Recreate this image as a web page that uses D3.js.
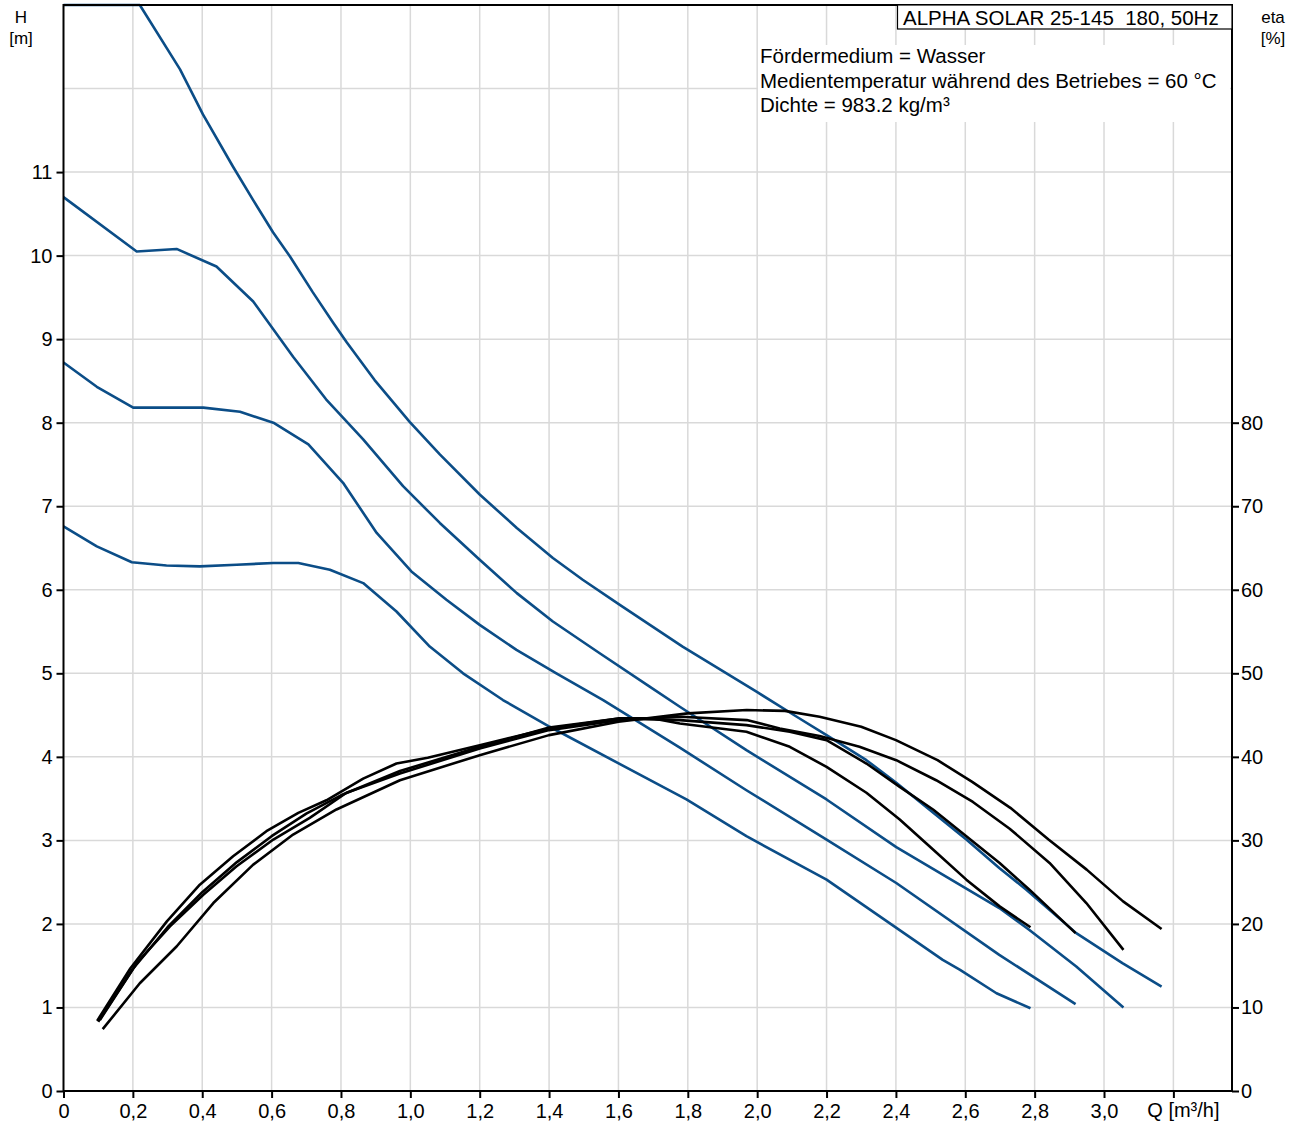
<html lang="de">
	<head>
		<title>ALPHA SOLAR 25-145 Kennlinien</title>
		<script src='https://d3js.org/d3.v7.min.js'></script>
		<style>
			body { margin: 0; background: white; }
			text { font-family: "Liberation Sans", Arial, sans-serif; fill: black; }
		</style>
	</head>
	<body>
		<svg id="svgForPumpCurves" width=1303 height=1122></svg>
	</body>
	<script>
        // Tick values and labels
        var qTicks = [0, 0.2, 0.4, 0.6, 0.8, 1.0, 1.2, 1.4, 1.6, 1.8, 2.0, 2.2, 2.4, 2.6, 2.8, 3.0, 3.2];
        var qTickLabels = ["0", "0,2", "0,4", "0,6", "0,8", "1,0", "1,2", "1,4", "1,6", "1,8", "2,0",
                           "2,2", "2,4", "2,6", "2,8", "3,0", "Q [m³/h]"];
        var hTicks = [0, 1, 2, 3, 4, 5, 6, 7, 8, 9, 10, 11];
        var hGridLines = [1, 2, 3, 4, 5, 6, 7, 8, 9, 10, 11, 12];
        var etaTicks = [0, 10, 20, 30, 40, 50, 60, 70, 80];

        var titleText = "ALPHA SOLAR 25-145  180, 50Hz";
        var infoLines = ["Fördermedium = Wasser",
                         "Medientemperatur während des Betriebes = 60 °C",
                         "Dichte = 983.2 kg/m³"];

        // Head curves H [m] over Q [m3/h]
        var headA = [[0, 13.0], [0.22, 13.0], [0.336, 12.23], [0.402, 11.69], [0.488, 11.07], [0.546, 10.67],
                     [0.604, 10.28], [0.653, 9.99], [0.719, 9.56], [0.777, 9.20], [0.817, 8.96], [0.897, 8.51],
                     [0.998, 8.01], [1.085, 7.62], [1.2, 7.14], [1.307, 6.74], [1.411, 6.38], [1.497, 6.12],
                     [1.604, 5.82], [1.785, 5.32], [1.998, 4.78], [2.114, 4.48], [2.2, 4.26], [2.315, 3.96],
                     [2.401, 3.69], [2.505, 3.34], [2.603, 3.01], [2.698, 2.67], [2.776, 2.41], [2.92, 1.89],
                     [3.053, 1.53], [3.166, 1.25]];
        var headB = [[0, 10.7], [0.211, 10.05], [0.326, 10.08], [0.441, 9.87], [0.547, 9.45], [0.662, 8.79],
                     [0.757, 8.28], [0.864, 7.80], [0.979, 7.24], [1.085, 6.80], [1.2, 6.36], [1.307, 5.96],
                     [1.411, 5.62], [1.546, 5.24], [1.69, 4.84], [1.777, 4.60], [1.969, 4.08], [2.2, 3.49],
                     [2.401, 2.92], [2.698, 2.19], [2.784, 1.93], [2.92, 1.49], [3.056, 1.0]];
        var headC = [[0, 8.72], [0.096, 8.43], [0.201, 8.18], [0.403, 8.18], [0.509, 8.13], [0.605, 8.0],
                     [0.706, 7.74], [0.806, 7.28], [0.903, 6.68], [1.003, 6.22], [1.104, 5.88], [1.2, 5.58],
                     [1.306, 5.28], [1.421, 5.0], [1.556, 4.68], [1.777, 4.11], [1.969, 3.60], [2.2, 3.01],
                     [2.401, 2.49], [2.698, 1.63], [2.918, 1.04]];
        var headD = [[0, 6.76], [0.096, 6.52], [0.197, 6.33], [0.297, 6.29], [0.393, 6.28], [0.499, 6.30],
                     [0.605, 6.32], [0.677, 6.32], [0.768, 6.24], [0.864, 6.08], [0.960, 5.74], [1.056, 5.32],
                     [1.152, 5.0], [1.267, 4.68], [1.402, 4.36], [1.796, 3.49], [1.969, 3.05], [2.2, 2.53],
                     [2.535, 1.57], [2.585, 1.45], [2.69, 1.17], [2.788, 0.99]];

        // Efficiency curves eta [%] over Q [m3/h]
        var etaA = [[0.113, 7.4], [0.22, 12.9], [0.326, 17.3], [0.432, 22.5], [0.547, 27.1], [0.662, 30.7],
                    [0.787, 33.7], [0.97, 37.2], [1.2, 40.2], [1.4, 42.6], [1.6, 44.2], [1.8, 45.2],
                    [1.97, 45.6], [2.08, 45.5], [2.18, 44.8], [2.3, 43.6], [2.4, 42.0], [2.52, 39.6],
                    [2.62, 37.0], [2.73, 33.9], [2.84, 30.1], [2.95, 26.5], [3.055, 22.7], [3.166, 19.4]];
        var etaB = [[0.105, 8.5], [0.211, 15.3], [0.307, 19.7], [0.403, 23.5], [0.499, 26.9], [0.605, 30.1],
                    [0.71, 32.7], [0.816, 35.7], [0.97, 38.0], [1.2, 41.0], [1.4, 43.2], [1.6, 44.4],
                    [1.78, 44.8], [1.97, 44.4], [2.065, 43.4], [2.18, 42.5], [2.295, 41.2], [2.401, 39.6],
                    [2.516, 37.2], [2.622, 34.6], [2.728, 31.4], [2.843, 27.3], [2.949, 22.5], [3.056, 16.9]];
        var etaC = [[0.1, 8.3], [0.2, 14.6], [0.3, 19.6], [0.4, 23.8], [0.5, 27.4], [0.6, 30.5],
                    [0.7, 33.2], [0.8, 35.4], [0.97, 38.3], [1.2, 41.2], [1.4, 43.5], [1.6, 44.6],
                    [1.777, 44.4], [1.969, 43.8], [2.094, 43.0], [2.2, 42.0], [2.315, 39.2], [2.411, 36.4],
                    [2.507, 33.7], [2.603, 30.5], [2.699, 27.3], [2.785, 24.1], [2.918, 18.9]];
        var etaD = [[0.097, 8.4], [0.193, 14.7], [0.298, 20.3], [0.393, 24.7], [0.489, 28.1], [0.585, 31.1],
                    [0.677, 33.3], [0.758, 34.8], [0.864, 37.4], [0.96, 39.2], [1.05, 39.9], [1.2, 41.4],
                    [1.4, 43.4], [1.6, 44.6], [1.7, 44.6], [1.777, 44.0], [1.969, 43.0], [2.094, 41.2],
                    [2.2, 38.8], [2.315, 35.7], [2.411, 32.5], [2.507, 28.9], [2.603, 25.3], [2.699, 22.1],
                    [2.788, 19.6]];

        var headCurves = [headA, headB, headC, headD];
        var etaCurves = [etaA, etaB, etaC, etaD];

        // plot frame (note: "top" is reserved on window, so use own names)
        var plotLeft = 63.5, plotRight = 1232, plotTop = 5, plotBottom = 1091;
        var xScale = d3.scaleLinear().domain([0, 3.369]).range([plotLeft, plotRight]);
        var yScaleHead = d3.scaleLinear().domain([0, 13]).range([plotBottom, plotTop]);
        var yScaleEta = d3.scaleLinear().domain([0, 130]).range([plotBottom, plotTop]);

        var blue = "#0b4d87";
        var gridColor = "#d9d9d9";
        var svg = d3.select("#svgForPumpCurves");

        // grid lines
        svg.append("g")
           .selectAll("line")
           .data(qTicks.slice(1))
           .enter()
           .append("line")
           .attr("x1", function(d) { return xScale(d) })
           .attr("x2", function(d) { return xScale(d) })
           .attr("y1", plotTop)
           .attr("y2", plotBottom)
           .attr("stroke", gridColor)
           .attr("stroke-width", 1.5);
        svg.append("g")
           .selectAll("line")
           .data(hGridLines)
           .enter()
           .append("line")
           .attr("x1", plotLeft)
           .attr("x2", plotRight)
           .attr("y1", function(d) { return yScaleHead(d) })
           .attr("y2", function(d) { return yScaleHead(d) })
           .attr("stroke", gridColor)
           .attr("stroke-width", 1.5);

        // white background behind the info text
        svg.append("rect")
           .attr("x", 758)
           .attr("y", 45)
           .attr("width", 472)
           .attr("height", 77)
           .attr("fill", "white");

        // head curves (blue) then efficiency curves (black)
        var headLine = d3.line()
                         .x(function(d) { return xScale(d[0]) })
                         .y(function(d) { return yScaleHead(d[1]) });
        var etaLine = d3.line()
                        .x(function(d) { return xScale(d[0]) })
                        .y(function(d) { return yScaleEta(d[1]) });

        svg.append("g")
           .selectAll("path")
           .data(headCurves)
           .enter()
           .append("path")
           .attr("fill", "none")
           .attr("stroke", blue)
           .attr("stroke-width", 2.6)
           .attr("stroke-linejoin", "round")
           .attr("d", headLine);
        svg.append("g")
           .selectAll("path")
           .data(etaCurves)
           .enter()
           .append("path")
           .attr("fill", "none")
           .attr("stroke", "black")
           .attr("stroke-width", 2.6)
           .attr("stroke-linejoin", "round")
           .attr("d", etaLine);

        // axes
        var xAxis = d3.axisBottom(xScale)
                      .tickValues(qTicks)
                      .tickSize(7)
                      .tickFormat(function(d, i) { return i == qTicks.length - 1 ? "" : qTickLabels[i] });
        var gx = svg.append("g")
                    .attr("transform", "translate(0," + plotBottom + ")")
                    .call(xAxis);
        var gl = svg.append("g")
                    .attr("transform", "translate(" + plotLeft + ",0)")
                    .call(d3.axisLeft(yScaleHead).tickValues(hTicks).tickSize(7).tickFormat(d3.format("d")));
        var gr = svg.append("g")
                    .attr("transform", "translate(" + plotRight + ",0)")
                    .call(d3.axisRight(yScaleEta).tickValues(etaTicks).tickSize(7).tickFormat(d3.format("d")));

        [gx, gl, gr].forEach(function(g) {
            g.select(".domain").remove();
            g.selectAll(".tick line").attr("stroke", "black").attr("stroke-width", 2);
            g.selectAll(".tick text")
             .attr("font-family", "Liberation Sans, Arial, sans-serif")
             .attr("font-size", "20px")
             .attr("fill", "black");
        });
        gx.selectAll(".tick text").attr("dy", "0.95em").attr("y", 8);
        gl.selectAll(".tick text").attr("x", -11);
        gr.selectAll(".tick text").attr("x", 9);

        // Q unit label sits on the last x tick
        svg.append("text")
           .attr("x", xScale(3.2) + 10)
           .attr("y", plotBottom + 26)
           .attr("text-anchor", "middle")
           .attr("font-size", "20px")
           .text(qTickLabels[qTickLabels.length - 1]);

        // frame lines
        svg.append("path")
           .attr("d", "M" + plotLeft + "," + plotBottom + "V" + plotTop + "H" + plotRight + "V" + plotBottom + "H" + plotLeft)
           .attr("fill", "none")
           .attr("stroke", "black")
           .attr("stroke-width", 2);

        // axis titles
        svg.append("text").attr("x", 21).attr("y", 23).attr("text-anchor", "middle").attr("font-size", "17px").text("H");
        svg.append("text").attr("x", 21).attr("y", 44).attr("text-anchor", "middle").attr("font-size", "17px").text("[m]");
        svg.append("text").attr("x", 1273).attr("y", 23).attr("text-anchor", "middle").attr("font-size", "17px").text("eta");
        svg.append("text").attr("x", 1273).attr("y", 44).attr("text-anchor", "middle").attr("font-size", "17px").text("[%]");

        // pump title box
        svg.append("rect")
           .attr("x", 897.5)
           .attr("y", plotTop)
           .attr("width", plotRight - 897.5)
           .attr("height", 24)
           .attr("fill", "white")
           .attr("stroke", "black")
           .attr("stroke-width", 1.2);
        svg.append("text")
           .attr("x", 903)
           .attr("y", 25)
           .attr("font-size", "20.5px")
           .style("white-space", "pre")
           .text(titleText);

        // medium info
        svg.append("g")
           .selectAll("text")
           .data(infoLines)
           .enter()
           .append("text")
           .attr("x", 760)
           .attr("y", function(d, i) { return 63 + i * 24.5 })
           .attr("font-size", "20.5px")
           .text(function(d) { return d });
	</script>
</html>
